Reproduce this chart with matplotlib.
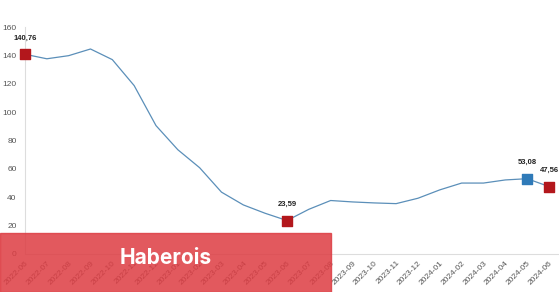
"""Monthly series with highlighted points and a banner overlay."""
from matplotlib import pyplot as plt
from matplotlib.patches import Rectangle

months = ["2022-06", "2022-07", "2022-08", "2022-09", "2022-10", "2022-11",
          "2022-12", "2023-01", "2023-02", "2023-03", "2023-04", "2023-05",
          "2023-06", "2023-07", "2023-08", "2023-09", "2023-10", "2023-11",
          "2023-12", "2024-01", "2024-02", "2024-03", "2024-04", "2024-05",
          "2024-06"]
values = [140.76, 137.6, 139.8, 144.5, 137.0, 118.7, 90.5, 73.5, 60.8, 43.6,
          34.6, 28.7, 23.59, 31.5, 37.7, 36.7, 36.0, 35.5, 39.3, 45.2, 50.0,
          50.0, 52.2, 53.08, 47.56]
red_idx = [0, 12, 24]
blue_idx = [23]
yticks = [0, 20, 40, 60, 80, 100, 120, 140, 160]

plt.rcParams["font.family"] = ["Liberation Sans", "DejaVu Sans"]

fig = plt.figure(figsize=(5.59, 2.92), dpi=100)
ax = fig.add_axes([25 / 559, 38 / 292, 1 - 25 / 559, 227 / 292])

x = list(range(len(values)))
ax.plot(x, values, color="#5b8fb9", lw=0.9, zorder=2)
ax.scatter([x[i] for i in red_idx], [values[i] for i in red_idx], marker="s",
           s=55, color="#b3171c", zorder=3, clip_on=False)
ax.scatter([x[i] for i in blue_idx], [values[i] for i in blue_idx], marker="s",
           s=55, color="#2f7ab8", zorder=3, clip_on=False)

for i in red_idx + blue_idx:
    ax.annotate(f"{values[i]:.2f}".replace(".", ","), (x[i], values[i]),
                xytext=(0, 9), textcoords="offset points", ha="center",
                va="bottom", fontsize=5.5, fontweight="bold", color="#222222",
                annotation_clip=False)

ax.set_xlim(0, 24.46)
ax.set_ylim(0, 160)
ax.set_yticks(yticks)
ax.set_xticks(x)
ax.set_xticklabels(months, rotation=45, ha="right", rotation_mode="anchor")
ax.tick_params(axis="both", length=0, labelcolor="#555555")
ax.tick_params(axis="y", pad=6, labelsize=6)
ax.tick_params(axis="x", pad=4, labelsize=6)

for s in ["top", "right"]:
    ax.spines[s].set_visible(False)
ax.spines["left"].set_color("#dddddd")
ax.spines["bottom"].set_color("#dddddd")
ax.spines["left"].set_linewidth(0.8)
ax.spines["bottom"].set_linewidth(0.8)

# watermark banner
fig.patches.append(Rectangle((0, 0), 331 / 559, 59 / 292,
                             transform=fig.transFigure, color="#dd3c42",
                             alpha=0.85, zorder=10))
fig.text(166 / 559, 34 / 292, "Haberois", ha="center", va="center",
         fontsize=15, fontweight="bold", color="white", family="Inter",
         zorder=11)

fig.savefig("out.png", dpi=100)
